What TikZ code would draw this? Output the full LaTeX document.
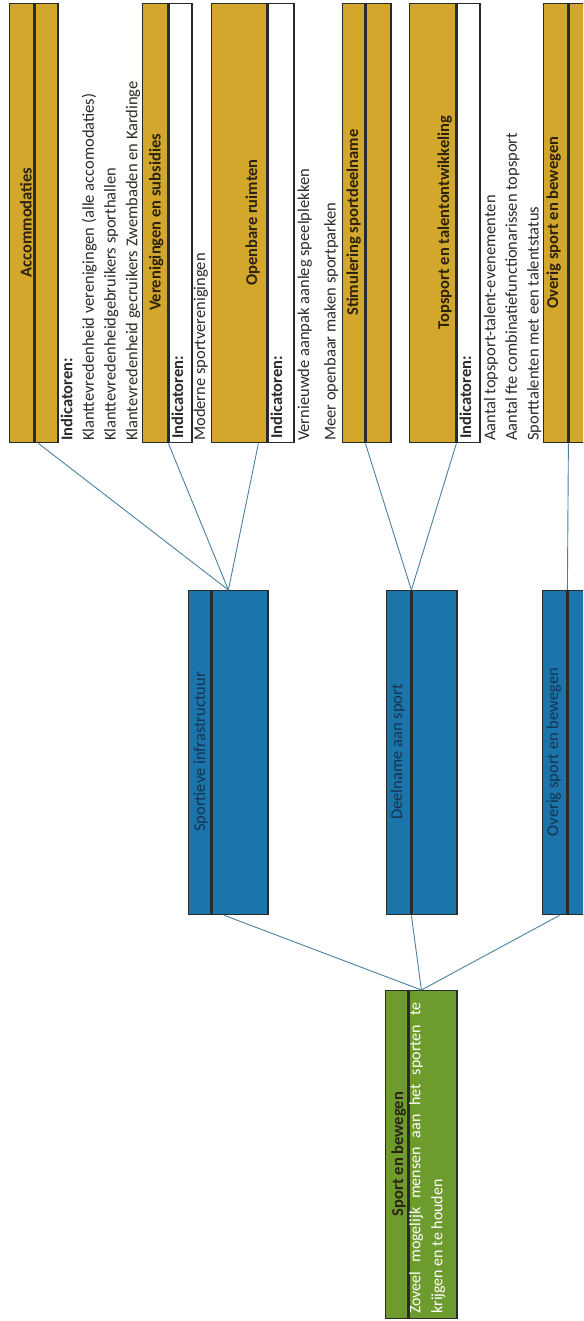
\documentclass[tikz,border=0pt]{standalone}
\usepackage{fontspec}
\setmainfont{Carlito}
\usetikzlibrary{positioning}

\definecolor{goldfill}{HTML}{D3A62C}
\definecolor{bluefill}{HTML}{1B75AB}
\definecolor{greenfill}{HTML}{6E9B2E}
\definecolor{edge}{HTML}{262B2B}
\definecolor{linkcol}{HTML}{4C80A0}
\definecolor{titletext}{HTML}{2B2210}
\definecolor{indtext}{HTML}{2A2A2A}
\definecolor{navytext}{HTML}{17324F}

\begin{document}
\begin{tikzpicture}[
        x=1pt, y=-1pt,
        font=\fontsize{16.5}{21.7}\selectfont,
        column/.style={draw=edge, line width=1.4pt, inner sep=0pt,
            anchor=north west, minimum height=#1},
        goldcol/.style={column=439, fill=goldfill},
        whitecol/.style={column=439, fill=white},
        bluecol/.style={column=324, fill=bluefill},
        greencol/.style={column=328, fill=greenfill},
        boxtitle/.style={rotate=90, anchor=base, inner sep=0pt,
            font=\fontsize{16.5}{20}\selectfont\bfseries, text=titletext},
        indic/.style={rotate=90, anchor=base west, inner sep=0pt, text=indtext},
        indblock/.style={rotate=90, anchor=north west, inner sep=0pt,
            align=left, text=indtext},
        link/.style={draw=linkcol, line width=0.9pt}
    ]
    \useasboundingbox (0,0) rectangle (583,1321);
    \clip (0,0) rectangle (583,1321);

    \node[goldcol, minimum width=24] (acch) at (9,3) {};
    \node[goldcol, minimum width=23, right=0pt of acch] (accb) {};
    \node[goldcol, minimum width=25] (verh) at (142,3) {};
    \node[whitecol, minimum width=23, right=0pt of verh] (verb) {};
    \node[goldcol, minimum width=55] (oprh) at (211,3) {};
    \node[whitecol, minimum width=26, right=0pt of oprh] (oprb) {};
    \node[goldcol, minimum width=22] (stih) at (342,3) {};
    \node[goldcol, minimum width=25, right=0pt of stih] (stib) {};
    \node[goldcol, minimum width=46] (toph) at (409,3) {};
    \node[whitecol, minimum width=23, right=0pt of toph] (topb) {};
    \node[goldcol, minimum width=24] (ovrh) at (543,3) {};
    \node[goldcol, minimum width=40, right=0pt of ovrh] (ovrb) {};

    \node[boxtitle] (acct) at (31.5,222.5) {Accommodaties};
    \node[boxtitle] (vert) at (160.5,222.5) {Verenigingen en subsidies};
    \node[boxtitle] (oprt) at (257,222.5) {Openbare ruimten};
    \node[boxtitle] (stit) at (358,222.5) {Stimulering sportdeelname};
    \node[boxtitle] (topt) at (449,222.5) {Topsport en talentontwikkeling};
    \node[boxtitle] (ovrt) at (558,222.5) {Overig sport en bewegen};

    \node[indblock] (acci) at (60.5,441) {\textbf{Indicatoren:}\\
    Klanttevredenheid verenigingen (alle accomodaties)\\
    Klanttevredenheidgebruikers sporthallen\\
    Klantevredenheid gecruikers Zwembaden en Kardinge};
    \node[indic] (veri) at (183,439) {\textbf{Indicatoren:}};
    \node[indic] (verl) at (205,441) {Moderne sportverenigingen};
    \node[indic] (opri) at (282,439) {\textbf{Indicatoren:}};
    \node[indblock, font=\fontsize{16.5}{26.5}\selectfont] (oprl) at (297.5,441)
    {Vernieuwde aanpak aanleg speelplekken\\Meer openbaar maken sportparken};
    \node[indic] (topi) at (471,439) {\textbf{Indicatoren:}};
    \node[indblock] (topl) at (483.6,441) {Aantal topsport-talent-evenementen\\
    Aantal fte combinatiefunctionarissen topsport\\
    Sporttalenten met een talentstatus};

    \node[bluecol, minimum width=22] (spih) at (188,590) {};
    \node[bluecol, minimum width=56, right=0pt of spih] (spib) {};
    \node[bluecol, minimum width=24] (dlnh) at (386,590) {};
    \node[bluecol, minimum width=45, right=0pt of dlnh] (dlnb) {};
    \node[bluecol, minimum width=24] (ovbh) at (542,590) {};
    \node[bluecol, minimum width=40, right=0pt of ovbh] (ovbb) {};

    \node[boxtitle, font=\fontsize{16.5}{20}\selectfont, text=navytext] (spit)
    at (205,752) {Sportieve infrastructuur};
    \node[boxtitle, font=\fontsize{16.5}{20}\selectfont, text=navytext] (dlnt)
    at (402,752) {Deelname aan sport};
    \node[boxtitle, font=\fontsize{16.5}{20}\selectfont, text=navytext] (ovbt)
    at (558,752) {Overig sport en bewegen};

    \node[greencol, minimum width=22] (sbwh) at (385,990) {};
    \node[greencol, minimum width=48, right=0pt of sbwh] (sbwb) {};
    \node[boxtitle] (sbwt) at (403,1154) {Sport en bewegen};
    \node[rotate=90, anchor=north west, inner sep=0pt, text width=311pt,
        align=justify, text=white, font=\fontsize{16}{22}\selectfont] (sbwx)
    at (409,1314) {Zoveel mogelijk mensen aan het sporten te\linebreak
    krijgen en te houden};

    \draw[link] ([xshift=4pt]accb.south west) -- ([xshift=17pt]spib.north west);
    \draw[link] (verh.south east) -- ([xshift=17pt]spib.north west);
    \draw[link] ([xshift=-9pt]oprh.south east) -- ([xshift=17pt]spib.north west);
    \draw[link] (stih.south east) -- (dlnh.north east);
    \draw[link] (toph.south east) -- (dlnh.north east);
    \draw[link] (ovrh.south east) -- (ovbh.north east);
    \draw[link] ([xshift=13pt]spib.south west) -- ([xshift=13pt]sbwb.north west);
    \draw[link] (dlnh.south east) -- ([xshift=13pt]sbwb.north west);
    \draw[link] ([xshift=-8pt]ovbh.south east) -- ([xshift=13pt]sbwb.north west);
\end{tikzpicture}
\end{document}
